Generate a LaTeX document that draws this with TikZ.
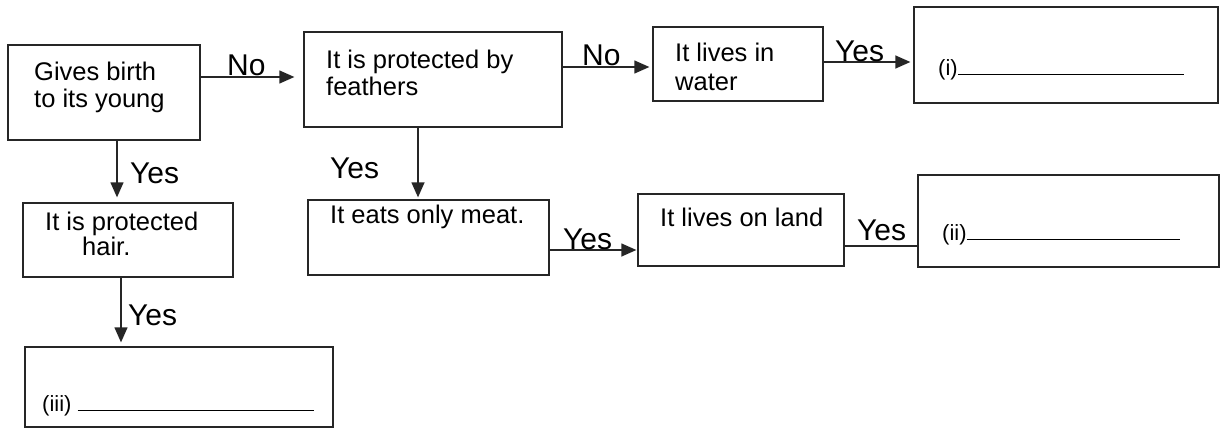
\documentclass[tikz,border=0pt]{standalone}
\usepackage{fontspec}
\setmainfont{Liberation Sans}
\usetikzlibrary{arrows.meta}
\begin{document}
\begin{tikzpicture}[x=1pt,y=-1pt,
  box/.style={draw=black!85,line width=1.3pt,rectangle,inner sep=0pt},
  txt/.style={anchor=base west,inner sep=0pt,font=\fontsize{25.5}{27}\selectfont},
  lbl/.style={anchor=base west,inner sep=0pt,font=\fontsize{30}{32}\selectfont},
  num/.style={anchor=base west,inner sep=0pt,font=\fontsize{22}{24}\selectfont},
  conn/.style={draw=black!85,line width=1.3pt},
  arr/.style={conn,-{Triangle[length=15pt,width=13pt]},shorten >=3pt}]
\useasboundingbox (0,0) rectangle (1228,436);

% boxes
\node[box,minimum width=192pt,minimum height=95pt] (A) at (104,92.5) {};
\node[box,minimum width=258pt,minimum height=95pt] (B) at (433,79.5) {};
\node[box,minimum width=170pt,minimum height=74pt] (C) at (738,64) {};
\node[box,minimum width=304pt,minimum height=96pt] (D) at (1066,55) {};
\node[box,minimum width=210pt,minimum height=74pt] (H) at (128,240) {};
\node[box,minimum width=241pt,minimum height=75pt] (G) at (428.5,237.5) {};
\node[box,minimum width=206pt,minimum height=72pt] (E) at (741,230) {};
\node[box,minimum width=301pt,minimum height=92pt] (F) at (1068.5,221) {};
\node[box,minimum width=308pt,minimum height=80pt] (I) at (179,387) {};

% box texts
\node[txt] (tA1) at (34,81) {Gives birth};
\node[txt] (tA2) at (34,107) {to its young};
\node[txt] (tB1) at (326,68) {It is protected by};
\node[txt] (tB2) at (326,95) {feathers};
\node[txt] (tC1) at (675,61) {It lives in};
\node[txt] (tC2) at (675,90) {water};
\node[num] (tD) at (938,75) {(i)\rule{226pt}{1pt}};
\node[txt] (tH1) at (45,230) {It is protected};
\node[txt] (tH2) at (82,255.5) {hair.};
\node[txt] (tG) at (330,223) {It eats only meat.};
\node[txt] (tE) at (660,226) {It lives on land};
\node[num] (tF) at (942,240) {(ii)\rule{213pt}{1pt}};
\node[num] (tI) at (42,411) {(iii)\hspace{6pt}\rule{236pt}{1pt}};

% connector levels
\coordinate (yAB) at (0,77);
\coordinate (yBC) at (0,67);
\coordinate (yCD) at (0,62);
\coordinate (yGE) at (0,250);
\coordinate (yEF) at (0,246);
\coordinate (xAH) at (117,0);
\coordinate (xBG) at (418,0);
\coordinate (xHI) at (121,0);

% connectors
\draw[arr,shorten >=9pt] (A.east|-yAB) -- (B.west|-yAB);
\draw[arr] (B.east|-yBC) -- (C.west|-yBC);
\draw[arr] (C.east|-yCD) -- (D.west|-yCD);
\draw[arr,shorten >=5pt] (xAH|-A.south) -- (xAH|-H.north);
\draw[arr,shorten >=2pt] (xBG|-B.south) -- (xBG|-G.north);
\draw[arr,shorten >=4pt] (xHI|-H.south) -- (xHI|-I.north);
\draw[arr,shorten >=1pt] (G.east|-yGE) -- (E.west|-yGE);
\draw[conn] (E.east|-yEF) -- (F.west|-yEF);

% labels
\node[lbl] (lAB) at (227,75) {No};
\node[lbl] (lBC) at (582,66) {No};
\node[lbl] (lCD) at (835,61) {Yes};
\node[lbl] (lAH) at (130,183) {Yes};
\node[lbl] (lBG) at (330,178) {Yes};
\node[lbl] (lGE) at (563,249) {Yes};
\node[lbl] (lEF) at (857,240) {Yes};
\node[lbl] (lHI) at (128,325) {Yes};
\end{tikzpicture}
\end{document}
